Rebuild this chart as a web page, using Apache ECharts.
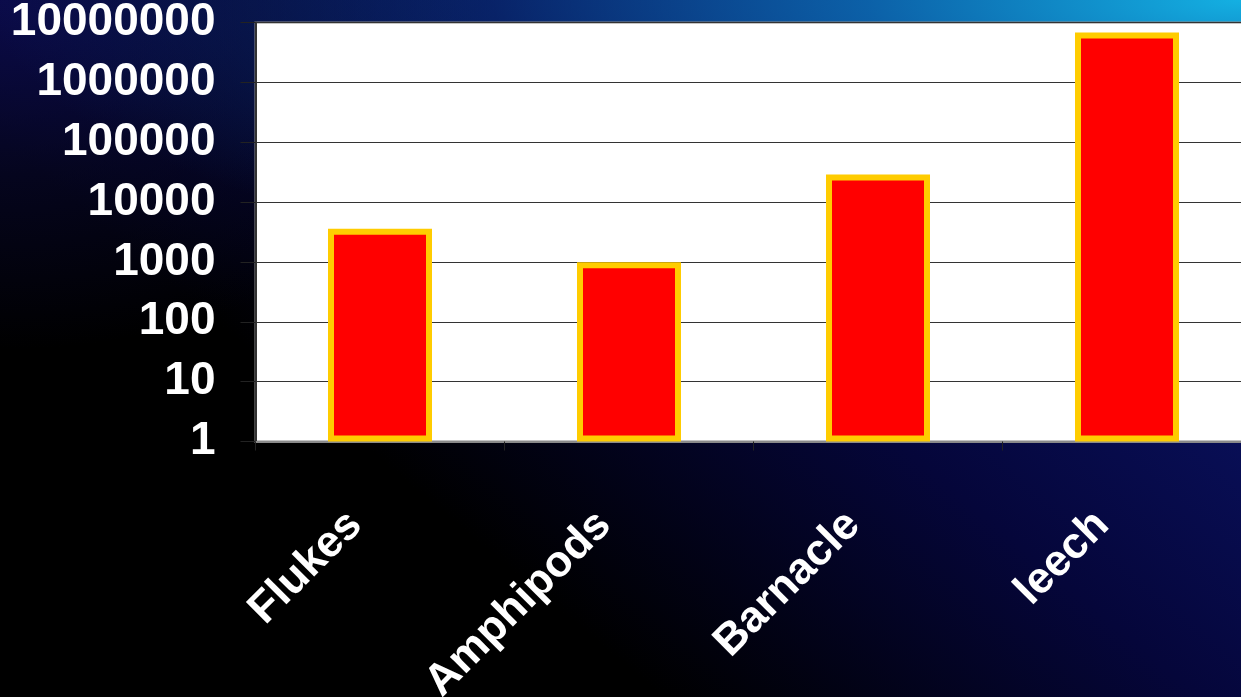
<!DOCTYPE html>
<html>
<head>
<meta charset="utf-8">
<script src="https://cdn.jsdelivr.net/npm/echarts@6/dist/echarts.min.js"></script>
<style>
html,body{margin:0;padding:0;width:1241px;height:697px;overflow:hidden;}
body{
  background:
    radial-gradient(ellipse 1250px 320px at 100% 0%, rgba(20,176,226,1) 0%, rgba(12,110,180,0.85) 30%, rgba(10,60,140,0.5) 60%, rgba(10,30,100,0) 100%),
    radial-gradient(ellipse 500px 350px at 0% 0%, rgba(12,12,80,0.9) 0%, rgba(10,10,60,0.5) 50%, rgba(10,10,60,0) 100%),
    linear-gradient(40deg, #000000 0%, #000000 32%, #05063a 58%, #0a1262 82%, #0b1670 100%);
}
#chart{width:1270px;height:697px;}
</style>
</head>
<body>
<div id="chart"></div>
<script>
const categories = ["Flukes", "Amphipods", "Barnacle", "leech"];
const values = [3600, 990, 29000, 6800000];
const yTicks = [1, 10, 100, 1000, 10000, 100000, 1000000, 10000000];

const chart = echarts.init(document.getElementById('chart'), null, {renderer: 'canvas'});
const font = '"Liberation Sans", Arial, sans-serif';
chart.setOption({
  backgroundColor: 'transparent',
  animation: false,
  grid: {
    left: 255.5, top: 22.5, width: 996, height: 419,
    show: true, backgroundColor: '#ffffff', borderColor: '#8a8a8a', borderWidth: 2,
    containLabel: false,
    outerBoundsMode: 'none'
  },
  xAxis: {
    type: 'category',
    data: categories,
    axisLine: {show: true, lineStyle: {color: '#8a8a8a', width: 2}},
    axisTick: {show: true, length: 9, lineStyle: {color: '#222'}},
    axisLabel: {
      interval: 0, rotate: 45, margin: 52,
      padding: [0, 35, 0, 0],
      color: '#ffffff', fontWeight: 'bold', fontSize: 44, fontFamily: font
    },
    splitLine: {show: false}
  },
  yAxis: {
    type: 'log', logBase: 10,
    min: yTicks[0], max: yTicks[yTicks.length - 1],
    axisLine: {show: true, lineStyle: {color: '#333', width: 2}},
    axisTick: {show: true, inside: false, length: 15, lineStyle: {color: '#222'}},
    axisLabel: {
      margin: 40, padding: [6, 0, 0, 0],
      color: '#ffffff', fontWeight: 'bold', fontSize: 46, fontFamily: font,
      formatter: function (v) {
        const r = Math.round(v);
        const t = yTicks.find(x => Math.abs(x - r) / x < 1e-6);
        return t !== undefined ? String(t) : '';
      }
    },
    splitLine: {show: true, lineStyle: {color: '#333333', width: 1.2}},
    minorTick: {show: false}
  },
  series: [{
    type: 'bar',
    data: values,
    barWidth: 104,
    itemStyle: {color: '#ff0000', borderColor: '#ffcc00', borderWidth: 6}
  }]
});
</script>
</body>
</html>
